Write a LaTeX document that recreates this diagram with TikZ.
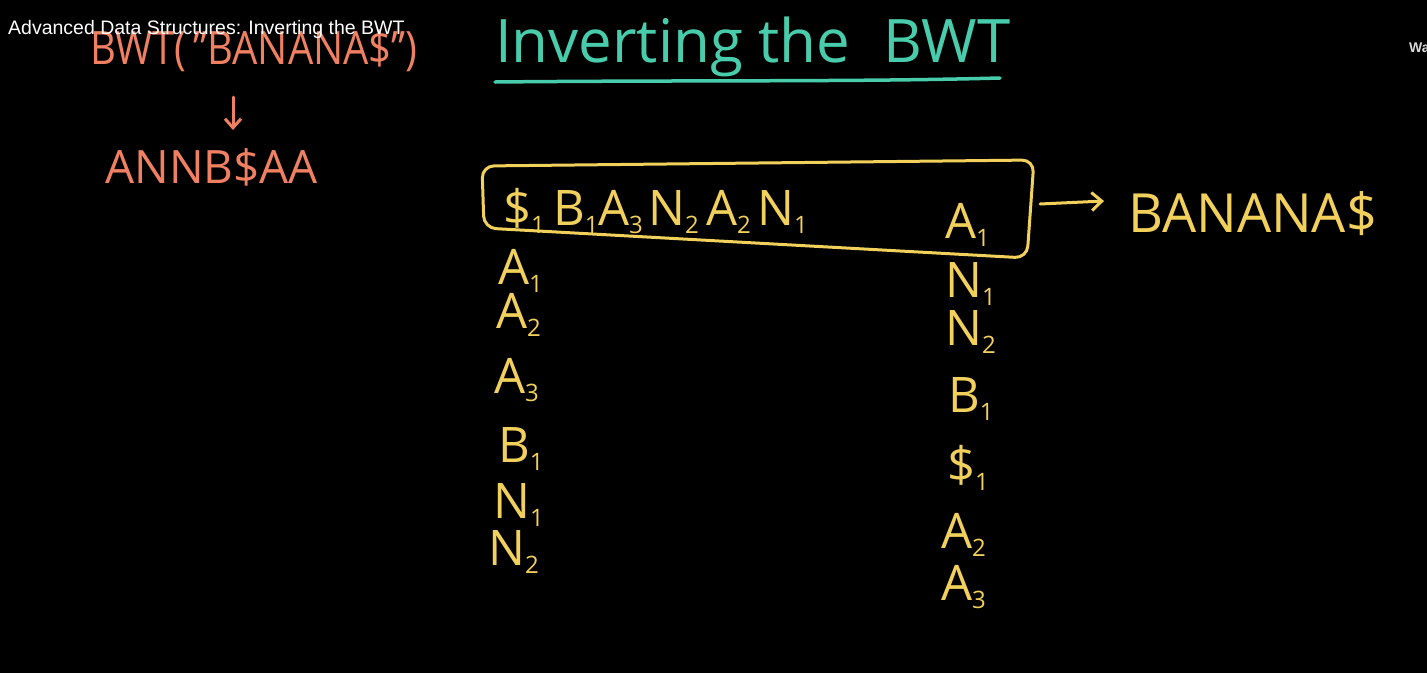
\documentclass[tikz,border=0pt]{standalone}
\usepackage{fontspec}
\usetikzlibrary{arrows.meta}
\setmainfont{Open Sans}
\newfontfamily\uifont{Liberation Sans}
\definecolor{chalkY}{RGB}{242,208,92}
\definecolor{chalkO}{RGB}{240,128,98}
\definecolor{chalkT}{RGB}{72,204,172}
\newcommand\lsub[1]{{\fontsize{24}{24}\selectfont\raisebox{-8pt}{#1}}}
\begin{document}
\begin{tikzpicture}[x=1pt,y=-1pt,
  yl/.style={text=chalkY, font=\fontsize{49}{49}\selectfont, inner sep=0, anchor=base west},
  ol/.style={text=chalkO, font=\fontsize{46}{46}\selectfont, inner sep=0, anchor=base west},
  tl/.style={text=chalkT, font=\fontsize{60}{60}\selectfont, inner sep=0, anchor=base west},
  ui/.style={text=white, font=\uifont\fontsize{19.5}{19.5}\selectfont, inner sep=0, anchor=base west},
  ystroke/.style={draw=chalkY, line width=3pt, line cap=round, line join=round},
  ostroke/.style={draw=chalkO, line width=3pt, line cap=round, line join=round},
  tstroke/.style={draw=chalkT, line width=3.5pt, line cap=round}]
\fill[black] (0,0) rectangle (1427,673);
\useasboundingbox (0,0) rectangle (1427,673);
\clip (0,0) rectangle (1427,673);

% orange
\node[ol] (bwt) at (90,64) {\scalebox{0.87}[1]{BWT(\,"BANANA\$")}};
\node[ol] (annb) at (105,183) {ANNB\$AA};
\coordinate (ta) at (233,97);
\coordinate (tb) at (233,130);
\draw[ostroke, -{Straight Barb[length=9pt,width=16pt]}] (ta) -- (tb);

% overlay
\node[ui] (ovl) at (8,34) {Advanced Data Structures: Inverting the BWT};
\node[ui, text=white!85!black, font=\uifont\bfseries\fontsize{14}{14}\selectfont] (wa) at (1409,52) {Wa};

% title
\node[tl] (title) at (495,62) {Inverting the\hspace{0.55em}BWT};
\draw[tstroke] (495,82) .. controls (700,80) and (850,82) .. (1000,78);

% box
\draw[ystroke, rounded corners=12pt] (482,166) -- (1034,160) -- (1027,258) -- (484,228) -- cycle;
\coordinate (boxr) at (1040,204);
\coordinate (arrowend) at (1104,201);

% top row
\node[yl] (t1) at (503,225) {\$\lsub1};
\node[yl] (t2) at (553,225) {B\lsub1};
\node[yl] (t3) at (598,225) {A\lsub3};
\node[yl] (t4) at (648,225) {N\lsub2};
\node[yl] (t5) at (706,225) {A\lsub2};
\node[yl] (t6) at (757,225) {N\lsub1};

% left column
\node[yl] (l1) at (498,284) {A\lsub1};
\node[yl] (l2) at (496,328) {A\lsub2};
\node[yl] (l3) at (494,393) {A\lsub3};
\node[yl] (l4) at (498,462) {B\lsub1};
\node[yl] (l5) at (493,518) {N\lsub1};
\node[yl] (l6) at (488,565) {N\lsub2};

% right column
\node[yl] (r1) at (945,238) {A\lsub1};
\node[yl] (r2) at (945,297) {N\lsub1};
\node[yl] (r3) at (945,345) {N\lsub2};
\node[yl] (r4) at (948,412) {B\lsub1};
\node[yl] (r5) at (947,482) {\$\lsub1};
\node[yl] (r6) at (941,548) {A\lsub2};
\node[yl] (r7) at (941,600) {A\lsub3};

% result
\node[yl, font=\fontsize{54}{54}\selectfont] (res) at (1128,232) {BANANA\$};
\draw[ystroke, -{Straight Barb[length=10pt,width=18pt]}] (boxr) -- (arrowend);
\end{tikzpicture}
\end{document}
